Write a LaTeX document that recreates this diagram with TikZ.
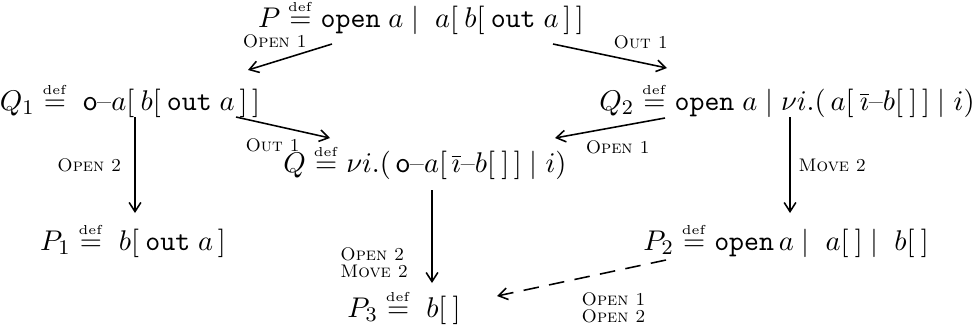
\documentclass[tikz,border=0pt]{standalone}
\usepackage{mathtools}
\usetikzlibrary{calc,arrows.meta}

\newcommand{\isdef}{\stackrel{\scriptscriptstyle\mathrm{def}}{=}}
\newcommand{\coname}{\mathsf{o}\text{--}}
\newcommand{\ibar}{\overline{\imath}\text{--}}
\newcommand{\rl}[1]{\textsc{#1}}

\begin{document}
\begin{tikzpicture}[x=0.3846pt, y=-0.3846pt, >={Straight Barb[length=3.5pt,width=4.5pt]}, line join=round]
    \tikzset{proc/.style={inner sep=1pt, font=\fontsize{11}{13}\selectfont},
      lbl/.style={font=\scriptsize, inner sep=1pt, align=left},
      arr/.style={->, semithick}}
    \useasboundingbox (0,0) rectangle (975,331);
    % processes
    \node[proc] (P) at (421,17) {$P \isdef \mathtt{open}\;a \;|\;\; a[\:b[\:\mathtt{out}\;a\,]\,]$};
    \node[proc] (Q1) at (130,100) {$Q_1 \isdef\; \coname a[\:b[\:\mathtt{out}\;a\,]\,]$};
    \node[proc] (Q2) at (787,100) {$Q_2 \isdef \mathtt{open}\;a \mid \nu i.(\,a[\:\ibar b[\:]\,]\mid i)$};
    \node[proc] (Q) at (425,162) {$Q \isdef \nu i.(\,\coname a[\,\ibar b[\:]\,]\mid i)$};
    \node[proc] (P1) at (133,240) {$P_1 \isdef\; b[\:\mathtt{out}\;a\,]$};
    \node[proc] (P2) at (786,240) {$P_2 \isdef \mathtt{open}\,a \;|\;\; a[\:] \;|\;\; b[\:]$};
    \node[proc] (P3) at (404,307) {$P_3 \isdef\; b[\:]$};
    % reductions
    \draw[arr] ($(P)+(-89,27)$) -- node[lbl, pos=.68, above=4pt] {\rl{Open 1}} ($(Q1)+(118,-30)$);
    \draw[arr] ($(P)+(132,27)$) -- node[lbl, pos=.77, above=4pt] {\rl{Out 1}} ($(Q2)+(-120,-32)$);
    \draw[arr] ($(Q1)+(106,17)$) -- node[lbl, pos=.39, below=4pt] {\rl{Out 1}} ($(Q)+(-95,-24)$);
    \draw[arr] ($(Q2)+(-122,18)$) -- node[lbl, pos=.43, below=4pt] {\rl{Open 1}} ($(Q)+(130,-24)$);
    \draw[arr] ($(Q1)+(5,17)$) -- node[lbl, left=4pt] {\rl{Open 2}} ($(P1)+(2,-27)$);
    \draw[arr] ($(Q2)+(3,17)$) -- node[lbl, right=2pt] {\rl{Move 2}} ($(P2)+(4,-27)$);
    \draw[arr] ($(Q)+(7,28)$) -- node[lbl, pos=.78, left=8pt] {\rl{Open 2}\\[-1.5pt]\rl{Move 2}} ($(P3)+(28,-24)$);
    \draw[arr, dashed, dash pattern=on 6pt off 4pt] ($(P2)+(-120,20)$) -- node[lbl, pos=.31, below=7pt] {\rl{Open 1}\\[-1.5pt]\rl{Open 2}} ($(P3)+(93,-11)$);
  \end{tikzpicture}
\end{document}
